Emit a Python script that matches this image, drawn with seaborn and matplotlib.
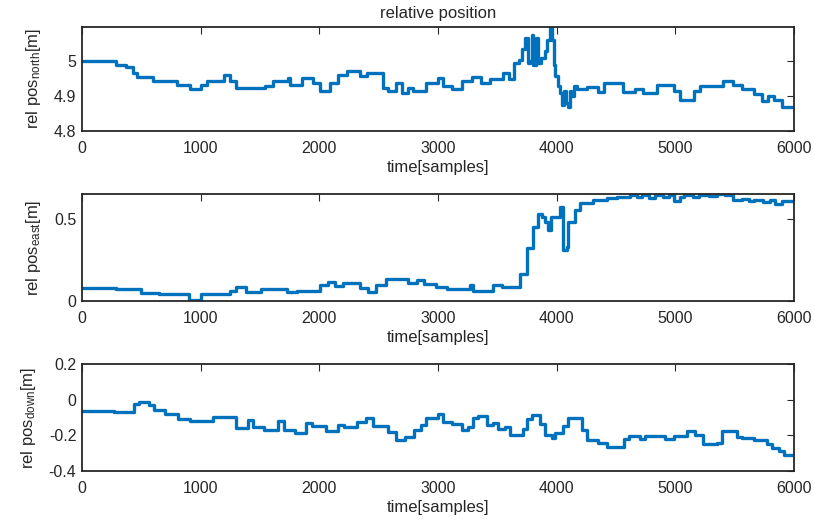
import matplotlib
matplotlib.use("Agg")
import matplotlib.pyplot as plt
import seaborn as sns

# step breakpoints (sample index) and values
north_t = [0, 290, 370, 430, 460, 600, 800, 910, 1005, 1050, 1200, 1245, 1300, 1540, 1610,
           1740, 1755, 1850, 1950, 2005, 2090, 2160, 2230, 2340, 2400, 2540, 2580, 2650, 2695,
           2750, 2790, 2900, 3000, 3045, 3120, 3200, 3285, 3365, 3440, 3550, 3595, 3640, 3680,
           3710, 3730, 3755, 3775, 3790, 3800, 3825, 3840, 3870, 3900, 3920, 3943, 3960, 3975,
           3990, 4010, 4030, 4045, 4060, 4080, 4098, 4110, 4125, 4150, 4170, 4255, 4350, 4400,
           4560, 4660, 4730, 4845, 4990, 5040, 5160, 5210, 5330, 5400, 5490, 5560, 5660, 5730,
           5785, 5828, 5898, 6000]
north_v = [5.0, 4.99, 4.985, 4.967, 4.955, 4.943, 4.933, 4.92, 4.933, 4.943, 4.96, 4.943, 4.924,
           4.93, 4.943, 4.953, 4.933, 4.953, 4.937, 4.915, 4.937, 4.962, 4.972, 4.957, 4.967,
           4.924, 4.915, 4.937, 4.91, 4.924, 4.915, 4.937, 4.953, 4.93, 4.92, 4.943, 4.955,
           4.937, 4.95, 4.967, 4.948, 4.995, 5.005, 5.035, 5.067, 4.995, 5.0, 5.076, 4.99,
           5.067, 4.995, 5.01, 5.03, 5.06, 5.095, 5.06, 4.99, 4.957, 4.93, 4.91, 4.876, 4.915,
           4.88, 4.87, 4.915, 4.9, 4.93, 4.92, 4.925, 4.913, 4.937, 4.913, 4.92, 4.91, 4.933,
           4.915, 4.89, 4.915, 4.93, 4.928, 4.943, 4.933, 4.92, 4.906, 4.887, 4.9, 4.89, 4.87,
           4.868]

east_t = [0, 290, 500, 650, 900, 1000, 1250, 1300, 1380, 1510, 1725, 1810, 2005, 2075, 2130,
          2200, 2340, 2410, 2480, 2560, 2750, 2820, 2880, 2985, 3074, 3270, 3298, 3467, 3537,
          3690, 3752, 3800, 3846, 3880, 3900, 3930, 3950, 4029, 4057, 4085, 4098, 4155, 4198,
          4310, 4423, 4508, 4620, 4680, 4720, 4780, 4830, 4900, 4950, 4985, 5040, 5070, 5150,
          5200, 5280, 5350, 5420, 5490, 5560, 5620, 5659, 5740, 5800, 5842, 5898, 6000]
east_v = [0.077, 0.071, 0.047, 0.041, 0.006, 0.041, 0.06, 0.085, 0.052, 0.072, 0.052, 0.06,
          0.097, 0.118, 0.093, 0.107, 0.077, 0.056, 0.097, 0.133, 0.11, 0.126, 0.101, 0.085,
          0.072, 0.097, 0.06, 0.097, 0.085, 0.167, 0.32, 0.452, 0.528, 0.51, 0.483, 0.432,
          0.513, 0.574, 0.31, 0.33, 0.483, 0.553, 0.594, 0.614, 0.624, 0.634, 0.645, 0.63,
          0.648, 0.628, 0.645, 0.635, 0.648, 0.607, 0.63, 0.645, 0.635, 0.648, 0.638, 0.65,
          0.645, 0.614, 0.62, 0.608, 0.615, 0.605, 0.615, 0.589, 0.607, 0.607]

down_t = [0, 270, 440, 480, 565, 610, 700, 810, 910, 1105, 1300, 1400, 1445, 1530, 1650, 1700,
          1795, 1890, 1935, 2060, 2160, 2210, 2320, 2390, 2455, 2580, 2650, 2720, 2800, 2860,
          2900, 3000, 3045, 3115, 3200, 3255, 3298, 3340, 3410, 3467, 3509, 3565, 3607, 3720,
          3748, 3790, 3860, 3900, 3957, 3987, 4057, 4098, 4212, 4254, 4352, 4423, 4564, 4606,
          4704, 4746, 4915, 4985, 5097, 5167, 5237, 5350, 5392, 5518, 5560, 5659, 5771, 5813,
          5870, 5912, 6000]
down_v = [-0.061, -0.066, -0.025, -0.01, -0.028, -0.057, -0.081, -0.108, -0.119, -0.094,
          -0.157, -0.113, -0.151, -0.17, -0.117, -0.17, -0.185, -0.132, -0.145, -0.174, -0.142,
          -0.151, -0.123, -0.104, -0.145, -0.183, -0.227, -0.208, -0.17, -0.142, -0.104, -0.081,
          -0.123, -0.136, -0.17, -0.151, -0.104, -0.089, -0.142, -0.132, -0.164, -0.151, -0.198,
          -0.164, -0.108, -0.085, -0.138, -0.198, -0.217, -0.189, -0.145, -0.1, -0.17, -0.227,
          -0.24, -0.264, -0.221, -0.202, -0.221, -0.202, -0.221, -0.202, -0.176, -0.198, -0.251,
          -0.24, -0.176, -0.208, -0.217, -0.227, -0.246, -0.27, -0.289, -0.308, -0.308]

x_ticks = [0, 1000, 2000, 3000, 4000, 5000, 6000]

sns.set_style("white")
plt.rcParams["font.family"] = ["Liberation Sans", "DejaVu Sans"]
plt.rcParams["mathtext.fontset"] = "custom"
plt.rcParams["mathtext.rm"] = "Liberation Sans"
plt.rcParams["mathtext.it"] = "Liberation Sans"
txt = "#262626"
blue = "#0072BD"

fig = plt.figure(figsize=(8.14, 5.19), dpi=100)
ax1 = fig.add_axes([0.1007, 0.7476, 0.8747, 0.2013])
ax2 = fig.add_axes([0.1007, 0.4200, 0.8747, 0.2058])
ax3 = fig.add_axes([0.1007, 0.0925, 0.8747, 0.2058])

panels = [
    (ax1, north_t, north_v, (4.8, 5.1), [4.8, 4.9, 5.0], ["4.8", "4.9", "5"], r"rel pos$_{\mathrm{north}}$[m]"),
    (ax2, east_t, east_v, (0, 0.65), [0, 0.5], ["0", "0.5"], r"rel pos$_{\mathrm{east}}$[m]"),
    (ax3, down_t, down_v, (-0.4, 0.2), [-0.4, -0.2, 0, 0.2], ["-0.4", "-0.2", "0", "0.2"], r"rel pos$_{\mathrm{down}}$[m]"),
]

for ax, t, v, ylim, yt, ytl, ylab in panels:
    sns.lineplot(x=t, y=v, ax=ax, estimator=None, color=blue, linewidth=2.4,
                 drawstyle="steps-post")
    ax.set_xlim(0, 6000)
    ax.set_ylim(*ylim)
    ax.set_xticks(x_ticks)
    ax.set_xticklabels([str(x) for x in x_ticks])
    ax.set_yticks(yt)
    ax.set_yticklabels(ytl)
    ax.tick_params(direction="in", top=True, right=True, length=5, width=0.8,
                   labelsize=11.5, colors=txt, labelcolor=txt)
    ax.tick_params(axis="x", pad=7)
    ax.tick_params(axis="y", pad=4)
    for s in ax.spines.values():
        s.set_visible(True)
        s.set_color("#262626")
        s.set_linewidth(1.3)
    ax.set_xlabel("time[samples]", fontsize=12, color=txt, labelpad=3)
    ax.set_ylabel(ylab, fontsize=12, color=txt, labelpad=8)

ax1.set_title("relative position", fontsize=12, color=txt, pad=6)

fig.savefig("out.png", dpi=100)
